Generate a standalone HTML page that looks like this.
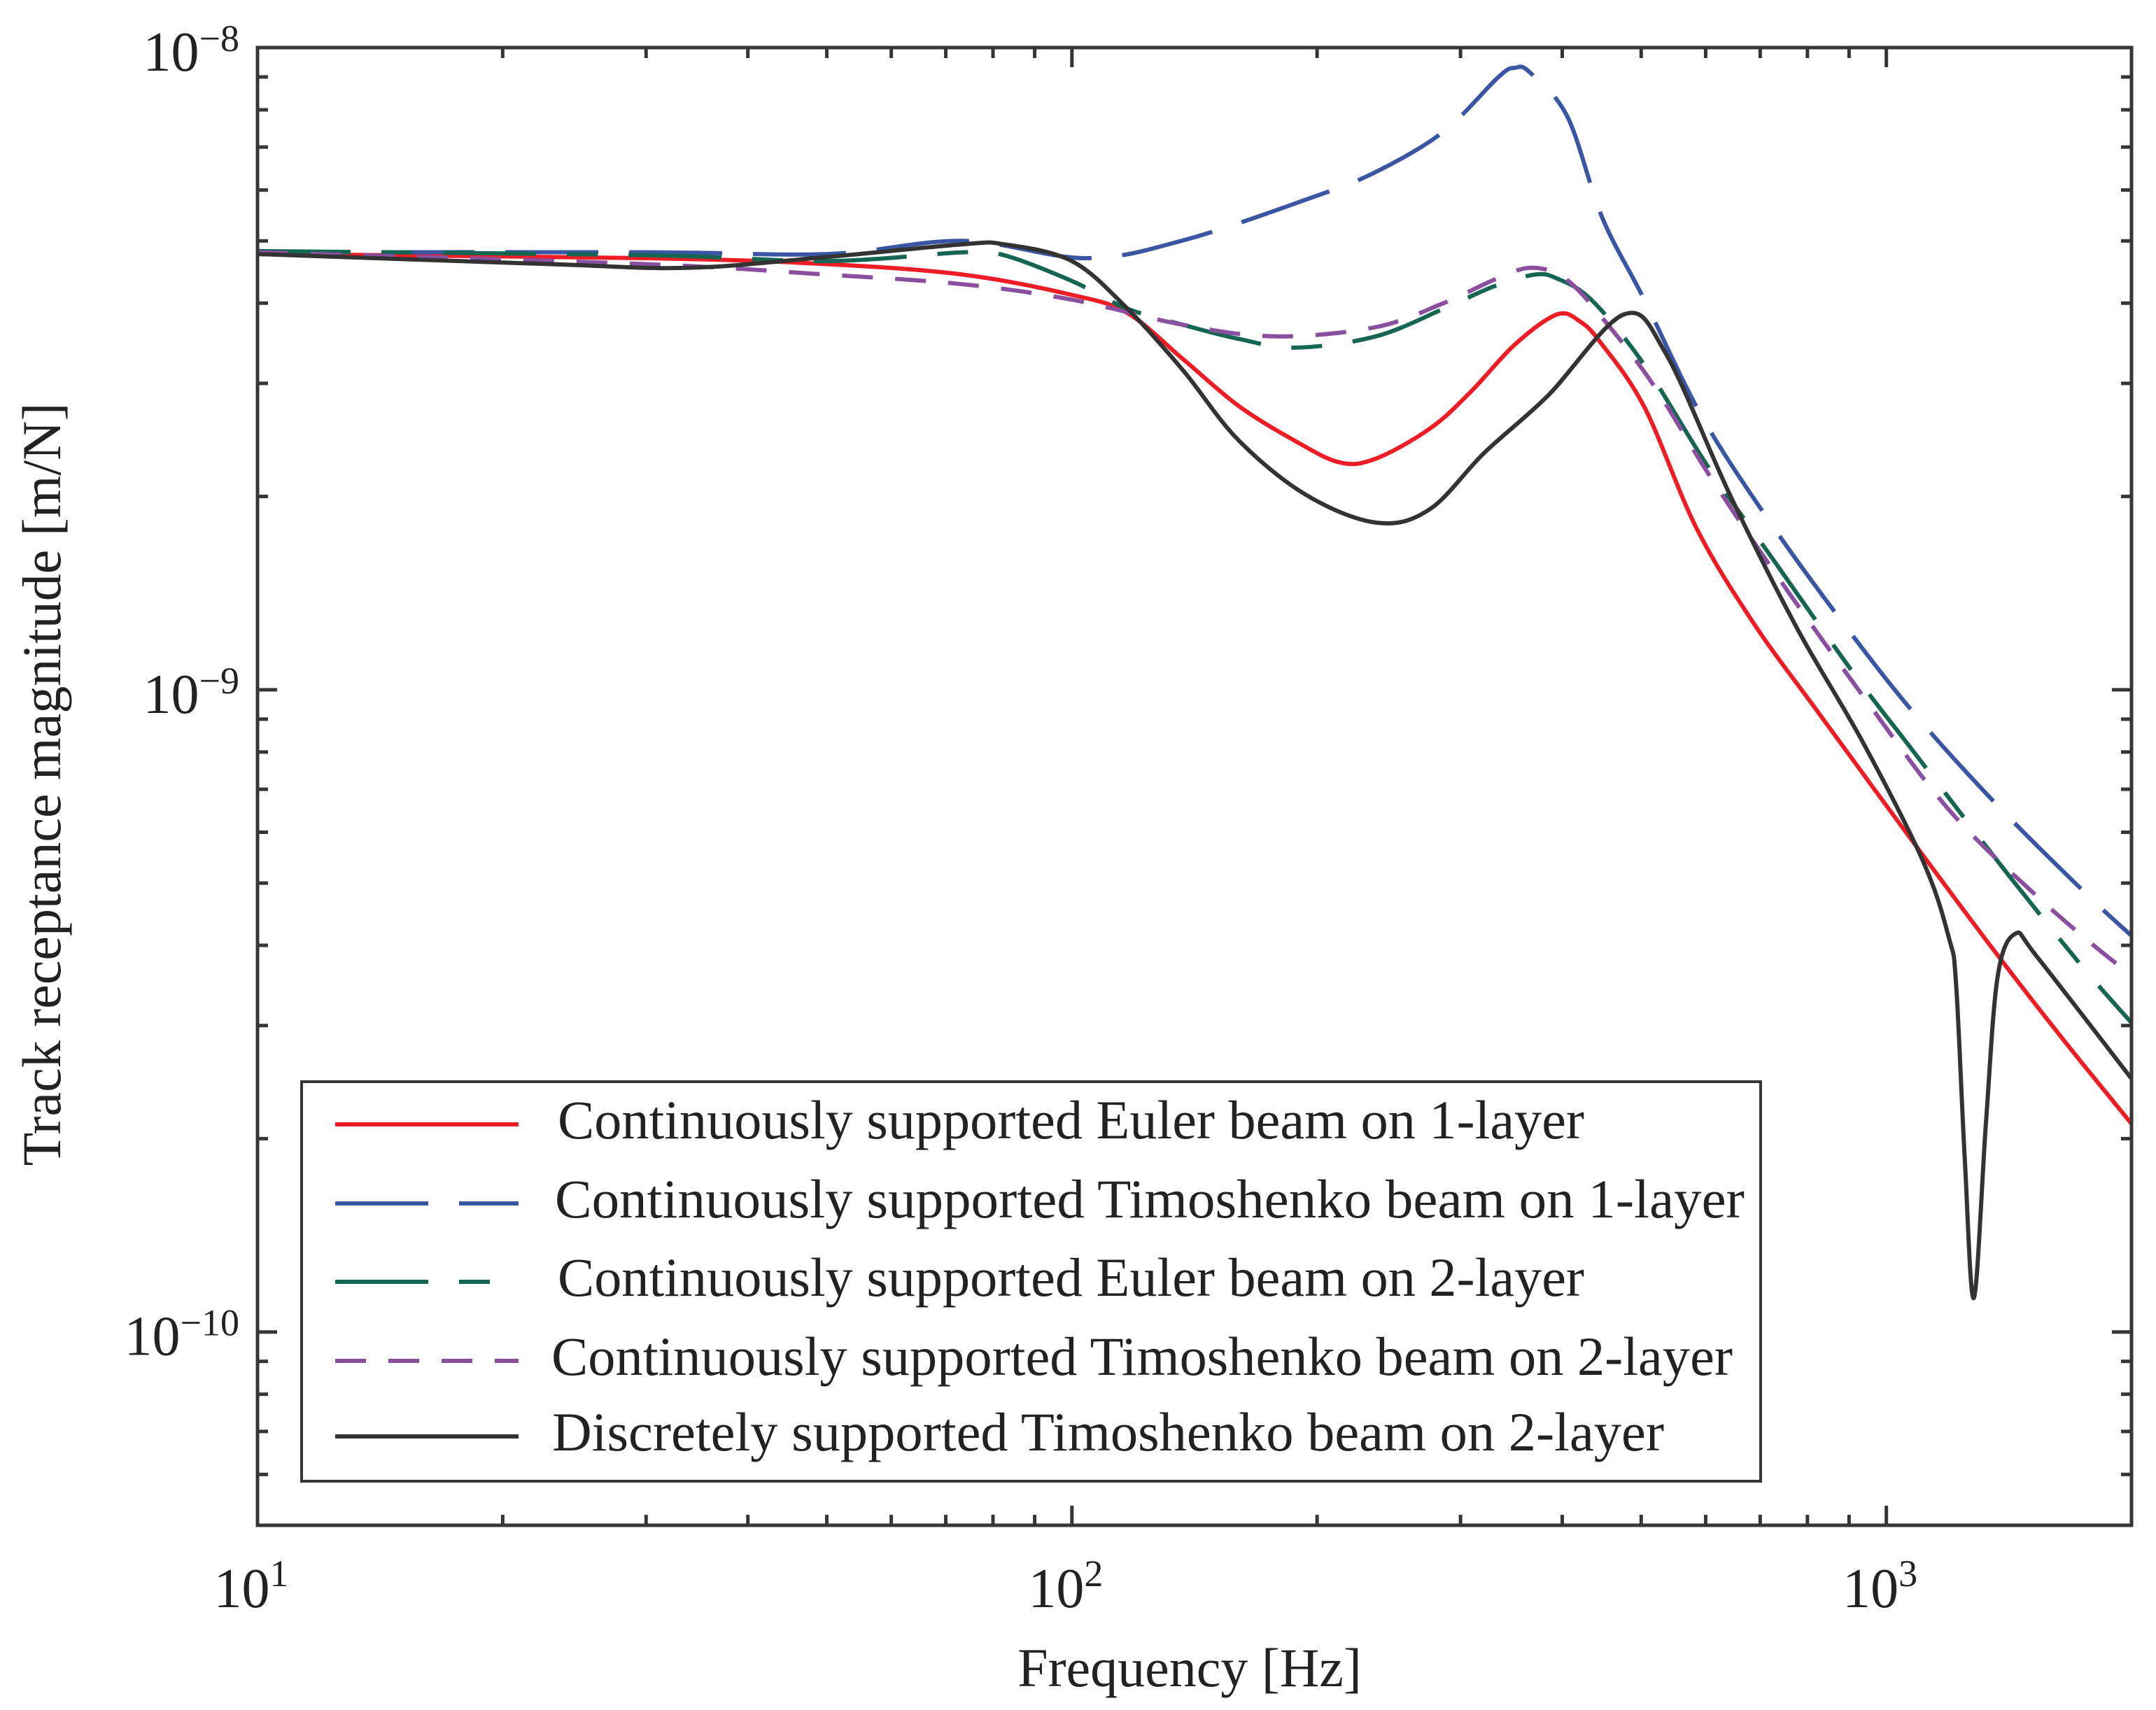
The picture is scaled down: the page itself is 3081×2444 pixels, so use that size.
<!DOCTYPE html>
<html><head><meta charset="utf-8"><style>
html,body{margin:0;padding:0;background:#fff;}
svg{display:block;font-family:"Liberation Serif",serif;}
</style></head><body>
<svg id="chart" width="3081" height="2444" viewBox="0 0 3081 2444" xmlns="http://www.w3.org/2000/svg">
<rect x="0" y="0" width="3081" height="2444" fill="#fff"/>
<g id="series"></g>
<g id="ticks"></g>
<rect x="368" y="68" width="2678" height="2112" fill="none" stroke="#363636" stroke-width="5"/>
<g id="labels" fill="#222" font-size="80"></g>
<text x="1700" y="2410" font-size="78" text-anchor="middle" fill="#222">Frequency [Hz]</text>
<text transform="translate(86,1121) rotate(-90)" font-size="78" text-anchor="middle" fill="#222">Track receptance magnitude [m/N]</text>
<g id="legend"></g>
</svg>
<script>
const xTicks = [10, 100, 1000];
const xTickExp = ["1", "2", "3"];
const yTicks = [1e-8, 1e-9, 1e-10];
const yTickExp = ["\u22128", "\u22129", "\u221210"];
const xDomain = [10, 2000];
const yDomain = [5e-11, 1e-8];

const seriesNames = [
  "Continuously supported Euler beam on 1-layer",
  "Continuously supported Timoshenko beam on 1-layer",
  "Continuously supported Euler beam on 2-layer",
  "Continuously supported Timoshenko beam on 2-layer",
  "Discretely supported Timoshenko beam on 2-layer"
];

const redF = [10,30,50,73.5,100,117,137,160,187,213,236,275,308,350,394,420,446,505,584,687,826,1057,1353,1650,2000];
const redV = [4.77e-9,4.7e-9,4.6e-9,4.43e-9,4.12e-9,3.86e-9,3.27e-9,2.77e-9,2.45e-9,2.26e-9,2.29e-9,2.55e-9,2.9e-9,3.45e-9,3.84e-9,3.75e-9,3.47e-9,2.75e-9,1.79e-9,1.27e-9,9.2e-10,6.0e-10,3.94e-10,2.85e-10,2.11e-10];

const blueF = [10,30,50,73.5,104,137,194,236,286,334,350,365,406,448,505,592,712,877,1081,1370,1754,2000];
const blueV = [4.8e-9,4.8e-9,4.77e-9,5.0e-9,4.7e-9,5.01e-9,5.8e-9,6.4e-9,7.4e-9,9.0e-9,9.3e-9,9.15e-9,7.8e-9,5.43e-9,4.04e-9,2.68e-9,1.86e-9,1.29e-9,9.2e-10,6.6e-10,4.83e-10,4.14e-10];

const greenF = [10,30,50,73.5,82.5,100,117,137,160,188,236,286,330,370,394,435,505,606,730,912,1081,1387,1733,2000];
const greenV = [4.82e-9,4.75e-9,4.65e-9,4.8e-9,4.75e-9,4.33e-9,3.92e-9,3.7e-9,3.52e-9,3.41e-9,3.55e-9,3.92e-9,4.25e-9,4.43e-9,4.37e-9,4.04e-9,3.2e-9,2.21e-9,1.58e-9,1.06e-9,8.0e-10,5.3e-10,3.73e-10,3.03e-10];

const purpleF = [10,30,50,73.5,100,137,178,236,286,330,366,403,446,517,606,730,935,1194,1531,1889,2000];
const purpleV = [4.8e-9,4.6e-9,4.43e-9,4.28e-9,4.05e-9,3.7e-9,3.55e-9,3.67e-9,4.0e-9,4.35e-9,4.54e-9,4.37e-9,3.82e-9,2.99e-9,2.16e-9,1.52e-9,9.8e-10,6.5e-10,4.77e-10,3.8e-10,3.65e-10];

const blackF = [10,22.9,33.8,50,73.5,82.5,100,117,137,160,194,237,275,321,384,476,536,644,776,935,1110,1194,1218,1248,1281,1326,1370,1440,1531,2000];
const blackV = [4.77e-9,4.6e-9,4.54e-9,4.72e-9,4.94e-9,4.94e-9,4.65e-9,3.92e-9,3.14e-9,2.45e-9,2.01e-9,1.82e-9,1.91e-9,2.34e-9,2.87e-9,3.84e-9,3.34e-9,2.0e-9,1.25e-9,8.3e-10,5.4e-10,4.1e-10,3.48e-10,1.87e-10,1.13e-10,2.14e-10,3.58e-10,4.17e-10,3.84e-10,2.48e-10];

const L=368,R=3046,T=68,B=2180;
function xS(f){return L+(Math.log10(f)-Math.log10(xDomain[0]))/(Math.log10(xDomain[1])-Math.log10(xDomain[0]))*(R-L);}
function yS(v){return T+(Math.log10(yDomain[1])-Math.log10(v))/(Math.log10(yDomain[1])-Math.log10(yDomain[0]))*(B-T);}
const NS="http://www.w3.org/2000/svg";
function mk(tag,attrs,parent){const e=document.createElementNS(NS,tag);for(const k in attrs)e.setAttribute(k,attrs[k]);parent.appendChild(e);return e;}

function pathD(F,V){
  const p=F.map((f,i)=>[xS(f),yS(V[i])]);
  let d="M"+p[0][0].toFixed(1)+","+p[0][1].toFixed(1);
  for(let i=0;i<p.length-1;i++){
    const p0=p[Math.max(0,i-1)],p1=p[i],p2=p[i+1],p3=p[Math.min(p.length-1,i+2)];
    const c1x=p1[0]+(p2[0]-p0[0])/6,c1y=p1[1]+(p2[1]-p0[1])/6;
    const c2x=p2[0]-(p3[0]-p1[0])/6,c2y=p2[1]-(p3[1]-p1[1])/6;
    d+=" C"+c1x.toFixed(1)+","+c1y.toFixed(1)+" "+c2x.toFixed(1)+","+c2y.toFixed(1)+" "+p2[0].toFixed(1)+","+p2[1].toFixed(1);
  }
  return d;
}

const styles=[
  {c:"#EE1C25",dash:"none",F:redF,V:redV,n:"series-euler-1layer"},
  {c:"#3A55A4",dash:"133 44",F:blueF,V:blueV,n:"series-timoshenko-1layer"},
  {c:"#146652",dash:"133 44 44 44",F:greenF,V:greenV,n:"series-euler-2layer"},
  {c:"#8B4F9F",dash:"44 32",F:purpleF,V:purpleV,n:"series-timoshenko-2layer"},
  {c:"#333333",dash:"none",F:blackF,V:blackV,n:"series-discrete-timoshenko-2layer"}
];
const sg=document.getElementById("series");
const clip=mk("clipPath",{id:"pc"},sg);
mk("rect",{x:L,y:T,width:R-L,height:B-T},clip);
styles.forEach(s=>{
  const e=mk("path",{d:pathD(s.F,s.V),fill:"none",stroke:s.c,"stroke-width":6,"stroke-dasharray":s.dash,"clip-path":"url(#pc)","stroke-linejoin":"round"},sg);
  
  
});

const tg=document.getElementById("ticks");
function tick(x1,y1,x2,y2,name){const e=mk("line",{x1:x1,y1:y1,x2:x2,y2:y2,stroke:"#363636","stroke-width":5},tg);
  
  }
for(let dec=10;dec<=1000;dec*=10){for(let m=1;m<10;m++){const f=dec*m;if(f>xDomain[1])break;const x=xS(f);const len=m===1?28:15;
  tick(x,B,x,B-len,"x-tick");tick(x,T,x,T+len,"x-tick-top");}}
for(let dec=1e-11;dec<=1e-8*1.01;dec*=10){for(let m=1;m<10;m++){const v=dec*m;if(v<yDomain[0]*0.999||v>yDomain[1]*1.001)continue;const y=yS(v);const len=m===1?28:15;
  tick(L,y,L+len,y,"y-tick");tick(R,y,R-len,y,"y-tick-right");}}

const lg=document.getElementById("labels");
xTicks.forEach((f,i)=>{
  const t=mk("text",{x:xS(f)-9,y:2297,"text-anchor":"middle"},lg);
  
  
  t.appendChild(document.createTextNode("10"));
  const s=mk("tspan",{"font-size":54,dy:-30},t);s.textContent=xTickExp[i];
});
yTicks.forEach((v,i)=>{
  const t=mk("text",{x:342,y:yS(v)+33,"text-anchor":"end"},lg);
  
  
  t.appendChild(document.createTextNode("10"));
  const s=mk("tspan",{"font-size":54,dy:-28},t);s.textContent=yTickExp[i];
});

const leg=document.getElementById("legend");
const box=mk("rect",{x:431,y:1546,width:2085,height:571,fill:"#fff",stroke:"#363636","stroke-width":4},leg);


const rowY=[1607,1720,1832,1945,2053];
const textX=[797,793,797,788,789];
const textW=[1467,1700,1467,1688,1589];
styles.forEach((s,i)=>{
  const ln=mk("line",{x1:479,y1:rowY[i],x2:741,y2:rowY[i],stroke:s.c,"stroke-width":6,"stroke-dasharray":s.dash},leg);
  
  
  const t=mk("text",{x:textX[i],y:rowY[i]+20,"font-size":78,fill:"#222",textLength:textW[i],lengthAdjust:"spacingAndGlyphs"},leg);
  
  
  t.textContent=seriesNames[i];
});
</script>
</body></html>
